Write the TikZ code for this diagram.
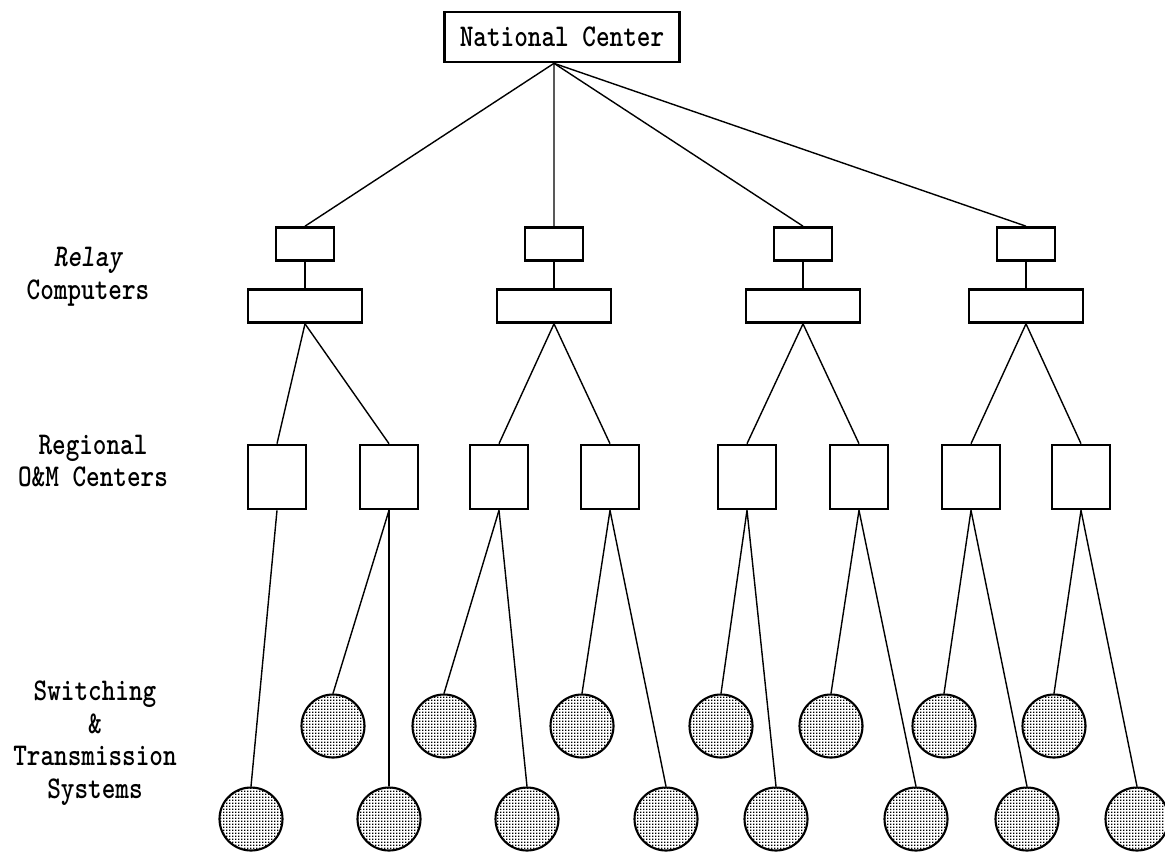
\documentclass[tikz,border=0pt]{standalone}
\usepackage{graphicx}
\usetikzlibrary{patterns}

% fine grid of dots for the system discs
\pgfdeclarepatternformonly{dotgrid}{\pgfpointorigin}{\pgfpoint{1.9pt}{1.9pt}}{\pgfpoint{1.9pt}{1.9pt}}{%
  \pgfpathrectangle{\pgfpointorigin}{\pgfpoint{1pt}{1pt}}\pgfusepath{fill}}

% narrow typewriter lettering
\newcommand\cond[1]{\scalebox{0.82}[1]{#1}}

\begin{document}
\begin{tikzpicture}[x=0.2mm, y=-0.2mm,
  box/.style={draw, rectangle, line width=1.5pt, inner sep=0pt},
  relay/.style={box, minimum width=11.6mm, minimum height=6.6mm},
  relaybase/.style={box, minimum width=22.8mm, minimum height=6.6mm},
  omc/.style={box, minimum width=11.6mm, minimum height=12.8mm},
  sts/.style={circle, draw, line width=1.2pt, pattern=dotgrid, minimum size=12.6mm, inner sep=0pt},
  tier/.style={align=center, font=\ttfamily\bfseries\fontsize{18}{18.5}\selectfont},
  link/.style={line width=0.8pt},
  stem/.style={line width=1.5pt}]
\useasboundingbox (0,0) rectangle (1165,851);

\node[box, tier, minimum width=47mm, minimum height=10mm] (nat) at (562,37) {\cond{National Center}};

% relay computers
\node[relay] (rc1) at (305,244) {};
\node[relay] (rc2) at (554,244) {};
\node[relay] (rc3) at (803,244) {};
\node[relay] (rc4) at (1026,244) {};
\node[relaybase] (rb1) at (305,306) {};
\node[relaybase] (rb2) at (554,306) {};
\node[relaybase] (rb3) at (803,306) {};
\node[relaybase] (rb4) at (1026,306) {};

% regional O&M centers
\node[omc] (om1) at (277,477) {};
\node[omc] (om2) at (389,477) {};
\node[omc] (om3) at (499,477) {};
\node[omc] (om4) at (610,477) {};
\node[omc] (om5) at (747,477) {};
\node[omc] (om6) at (859,477) {};
\node[omc] (om7) at (971,477) {};
\node[omc] (om8) at (1081,477) {};

% switching & transmission systems, upper and lower row
\node[sts] (sw1l) at (251,819) {};
\node[sts] (sw2u) at (333,726) {};
\node[sts] (sw2l) at (389,819) {};
\node[sts] (sw3u) at (444,726) {};
\node[sts] (sw3l) at (527,819) {};
\node[sts] (sw4u) at (582,726) {};
\node[sts] (sw4l) at (666,819) {};
\node[sts] (sw5u) at (721,726) {};
\node[sts] (sw5l) at (776,819) {};
\node[sts] (sw6u) at (831,726) {};
\node[sts] (sw6l) at (916,819) {};
\node[sts] (sw7u) at (944,726) {};
\node[sts] (sw7l) at (1027,819) {};
\node[sts] (sw8u) at (1054,726) {};
\node[sts] (sw8l) at (1137,819) {};

% tier names
\node[tier] (lblrelay) at (88,277) {\cond{\itshape Relay}\\\cond{Computers}};
\node[tier] (lblomc) at (93,461) {\cond{Regional}\\\cond{O\&M Centers}};
\node[tier] (lblsts) at (95,743) {\cond{Switching}\\\cond{\&}\\\cond{Transmission}\\\cond{Systems}};

\draw[link] ([xshift=-1.6mm]nat.south) -- (rc1.north);
\draw[link] ([xshift=-1.6mm]nat.south) -- (rc2.north);
\draw[link] ([xshift=-1.6mm]nat.south) -- (rc3.north);
\draw[link] ([xshift=-1.6mm]nat.south) -- (rc4.north);

\draw[stem] (rc1.south) -- (rb1.north);
\draw[stem] (rc2.south) -- (rb2.north);
\draw[stem] (rc3.south) -- (rb3.north);
\draw[stem] (rc4.south) -- (rb4.north);

\draw[link] (rb1.south) -- (om1.north);
\draw[link] (rb1.south) -- (om2.north);
\draw[link] (rb2.south) -- (om3.north);
\draw[link] (rb2.south) -- (om4.north);
\draw[link] (rb3.south) -- (om5.north);
\draw[link] (rb3.south) -- (om6.north);
\draw[link] (rb4.south) -- (om7.north);
\draw[link] (rb4.south) -- (om8.north);

\draw[link] (om1.south) -- (sw1l.north);
\draw[link] (om2.south) -- (sw2u.north);
\draw[link] (om2.south) -- (sw2l.north);
\draw[link] (om3.south) -- (sw3u.north);
\draw[link] (om3.south) -- (sw3l.north);
\draw[link] (om4.south) -- (sw4u.north);
\draw[link] (om4.south) -- (sw4l.north);
\draw[link] (om5.south) -- (sw5u.north);
\draw[link] (om5.south) -- (sw5l.north);
\draw[link] (om6.south) -- (sw6u.north);
\draw[link] (om6.south) -- (sw6l.north);
\draw[link] (om7.south) -- (sw7u.north);
\draw[link] (om7.south) -- (sw7l.north);
\draw[link] (om8.south) -- (sw8u.north);
\draw[link] (om8.south) -- (sw8l.north);
\end{tikzpicture}
\end{document}
